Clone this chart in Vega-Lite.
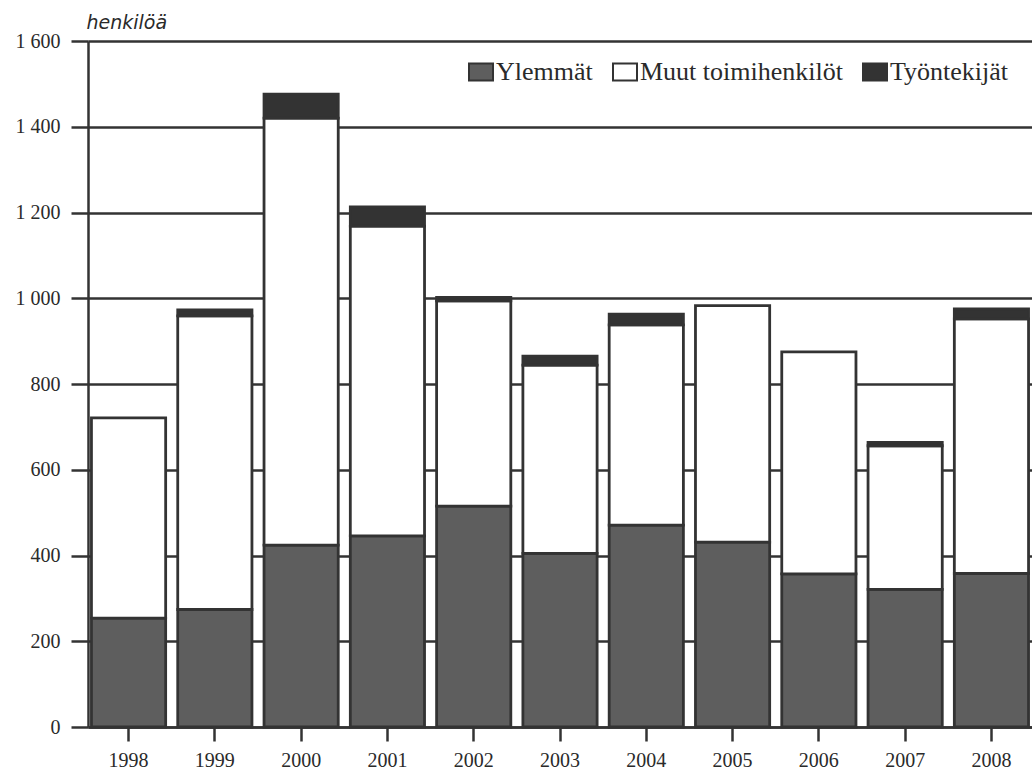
{
  "$schema": "https://vega.github.io/schema/vega-lite/v6.json",
  "autosize": "none",
  "width": 944,
  "height": 686,
  "padding": {"left": 88, "top": 41, "right": 0, "bottom": 44},
  "background": "white",
  "config": {"view": {"stroke": null}},
  "data": {"values": [
    {"year": "1998", "c": "Ylemmät", "v": 254},
    {"year": "1998", "c": "Muut toimihenkilöt", "v": 467},
    {"year": "1999", "c": "Ylemmät", "v": 274},
    {"year": "1999", "c": "Muut toimihenkilöt", "v": 685},
    {"year": "1999", "c": "Työntekijät", "v": 14},
    {"year": "2000", "c": "Ylemmät", "v": 424},
    {"year": "2000", "c": "Muut toimihenkilöt", "v": 996},
    {"year": "2000", "c": "Työntekijät", "v": 56},
    {"year": "2001", "c": "Ylemmät", "v": 446},
    {"year": "2001", "c": "Muut toimihenkilöt", "v": 722},
    {"year": "2001", "c": "Työntekijät", "v": 45},
    {"year": "2002", "c": "Ylemmät", "v": 515},
    {"year": "2002", "c": "Muut toimihenkilöt", "v": 479},
    {"year": "2002", "c": "Työntekijät", "v": 8},
    {"year": "2003", "c": "Ylemmät", "v": 405},
    {"year": "2003", "c": "Muut toimihenkilöt", "v": 439},
    {"year": "2003", "c": "Työntekijät", "v": 21},
    {"year": "2004", "c": "Ylemmät", "v": 471},
    {"year": "2004", "c": "Muut toimihenkilöt", "v": 467},
    {"year": "2004", "c": "Työntekijät", "v": 25},
    {"year": "2005", "c": "Ylemmät", "v": 431},
    {"year": "2005", "c": "Muut toimihenkilöt", "v": 552},
    {"year": "2006", "c": "Ylemmät", "v": 357},
    {"year": "2006", "c": "Muut toimihenkilöt", "v": 518},
    {"year": "2007", "c": "Ylemmät", "v": 321},
    {"year": "2007", "c": "Muut toimihenkilöt", "v": 335},
    {"year": "2007", "c": "Työntekijät", "v": 8},
    {"year": "2008", "c": "Ylemmät", "v": 358},
    {"year": "2008", "c": "Muut toimihenkilöt", "v": 594},
    {"year": "2008", "c": "Työntekijät", "v": 23}
  ]},
  "transform": [
    {"calculate": "indexof(['Ylemmät','Muut toimihenkilöt','Työntekijät'], datum.c)", "as": "ord"}
  ],
  "mark": {"type": "bar", "stroke": "#333333", "strokeWidth": 2.8},
  "encoding": {
    "x": {
      "field": "year", "type": "nominal",
      "scale": {"paddingInner": 0.14, "paddingOuter": 0.04},
      "axis": {
        "title": null, "labelAngle": 0, "domainColor": "#333333", "domainWidth": 2.5,
        "tickColor": "#333333", "tickWidth": 2.5, "tickSize": 14,
        "labelFont": "Liberation Serif", "labelFontSize": 20, "labelColor": "#2a2a2a",
        "labelPadding": 9, "grid": false
      }
    },
    "y": {
      "field": "v", "type": "quantitative", "stack": "zero",
      "scale": {"domain": [0, 1600], "nice": false},
      "axis": {
        "values": [0, 200, 400, 600, 800, 1000, 1200, 1400, 1600],
        "labelExpr": "replace(datum.label, ',', ' ')",
        "title": "henkilöä", "titleAngle": 0, "titleX": -2, "titleY": -13,
        "titleAlign": "left", "titleBaseline": "alphabetic",
        "titleFont": "DejaVu Sans", "titleFontStyle": "italic", "titleFontWeight": "normal",
        "titleFontSize": 19, "titleColor": "#2a2a2a",
        "grid": true, "gridColor": "#333333", "gridWidth": 2.5, "gridOpacity": 1,
        "domainColor": "#333333", "domainWidth": 2.5,
        "tickColor": "#333333", "tickWidth": 2.5, "tickSize": 17,
        "labelFont": "Liberation Serif", "labelFontSize": 20, "labelColor": "#2a2a2a",
        "labelPadding": 11
      }
    },
    "color": {
      "field": "c", "type": "nominal",
      "scale": {"domain": ["Ylemmät", "Muut toimihenkilöt", "Työntekijät"], "range": ["#5e5e5e", "#ffffff", "#333333"]},
      "legend": {
        "title": null, "orient": "none", "legendX": 380, "legendY": 18,
        "direction": "horizontal", "symbolType": "M-1,-0.708H1V0.708H-1Z", "symbolSize": 576,
        "symbolStrokeColor": "#333333", "symbolStrokeWidth": 2, "symbolOpacity": 1,
        "labelFont": "Liberation Serif", "labelFontSize": 26, "labelColor": "#2a2a2a",
        "labelOffset": 2, "columnPadding": 16, "labelLimit": 400
      }
    },
    "order": {"field": "ord", "type": "quantitative"}
  }
}
